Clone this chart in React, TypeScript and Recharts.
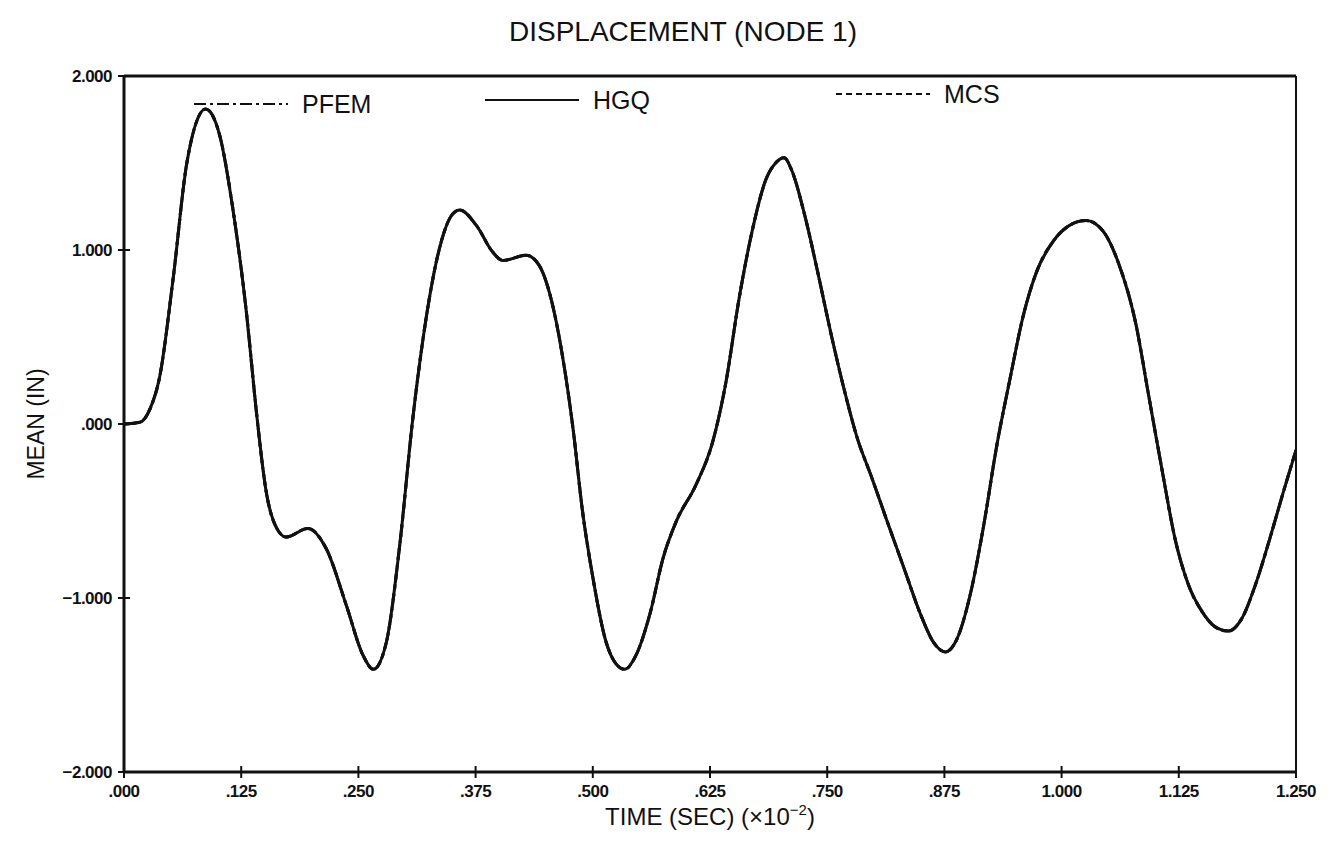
import { Legend, Line, LineChart, ReferenceLine, XAxis, YAxis } from 'recharts'

// time in units of 1e-2 sec
const timeSec = [
  0, 0.017, 0.028, 0.038, 0.0525, 0.067, 0.087, 0.102, 0.116, 0.131, 0.141, 0.152,
  0.163, 0.173, 0.196, 0.216, 0.237, 0.255, 0.266, 0.28, 0.294, 0.308, 0.322, 0.333,
  0.351, 0.358, 0.376, 0.393, 0.404, 0.429, 0.443, 0.454, 0.468, 0.479, 0.489, 0.5,
  0.514, 0.525, 0.534, 0.546, 0.561, 0.575, 0.589, 0.61, 0.628, 0.642, 0.656, 0.67,
  0.685, 0.695, 0.704, 0.712, 0.726, 0.74, 0.754, 0.768, 0.782, 0.797, 0.814, 0.832,
  0.85, 0.864, 0.876, 0.888, 0.903, 0.917, 0.931, 0.945, 0.959, 0.973, 0.991, 1.008,
  1.026, 1.044, 1.061, 1.079, 1.093, 1.107, 1.121, 1.135, 1.15, 1.165, 1.178, 1.192,
  1.207, 1.222, 1.236, 1.25,
]

const hgqMean = [
  0, 0.01, 0.09, 0.27, 0.84, 1.5, 1.81, 1.66, 1.24, 0.62, 0.08, -0.4,
  -0.6, -0.65, -0.6, -0.72, -1.04, -1.33, -1.41, -1.25, -0.7, 0.03, 0.6, 0.93,
  1.21, 1.23, 1.14, 0.99, 0.94, 0.97, 0.91, 0.75, 0.38, -0.03, -0.5, -0.88,
  -1.25, -1.38, -1.41, -1.33, -1.09, -0.77, -0.56, -0.35, -0.1, 0.24, 0.72, 1.11,
  1.41, 1.5, 1.53, 1.46, 1.2, 0.87, 0.52, 0.2, -0.08, -0.3, -0.56, -0.83,
  -1.1, -1.26, -1.31, -1.24, -0.97, -0.58, -0.12, 0.26, 0.62, 0.87, 1.05, 1.14,
  1.17, 1.11, 0.92, 0.58, 0.16, -0.26, -0.66, -0.92, -1.08, -1.17, -1.19, -1.12,
  -0.92, -0.66, -0.4, -0.15,
]
// the three solutions coincide at this scale
const pfemMean = hgqMean
const mcsMean = hgqMean

const xTicks = [0, 0.125, 0.25, 0.375, 0.5, 0.625, 0.75, 0.875, 1, 1.125, 1.25]
const xTickLabels = ['.000', '.125', '.250', '.375', '.500', '.625', '.750', '.875', '1.000', '1.125', '1.250']
const yTicks = [-2, -1, 0, 1, 2]
const yTickLabels = ['\u22122.000', '\u22121.000', '.000', '1.000', '2.000']

const data = timeSec.map((t, i) => ({
  t,
  pfem: pfemMean[i],
  hgq: hgqMean[i],
  mcs: mcsMean[i],
}))

const seriesStyle: Record<string, { dash?: string; lx: number; ly: number }> = {
  pfem: { dash: '12 4 3 4', lx: 194, ly: 104 },
  hgq: { lx: 485, ly: 100 },
  mcs: { dash: '6 4', lx: 836, ly: 94 },
}
const legendOrder = ['pfem', 'hgq', 'mcs']

const tickFont = {
  fontFamily: '"Liberation Sans", Arial, sans-serif',
  fontWeight: 700,
  fontSize: 17,
  fill: '#111',
}

function XTick({ x, y, payload }: any) {
  const i = xTicks.indexOf(payload.value)
  return (
    <g>
      <line x1={x} x2={x} y1={y - 6} y2={y + 6} stroke="#111" strokeWidth={2} />
      <text x={x} y={y + 25} textAnchor="middle" style={tickFont} letterSpacing={-0.5}>
        {xTickLabels[i]}
      </text>
    </g>
  )
}

function YTick({ x, y, payload }: any) {
  const i = yTicks.indexOf(payload.value)
  return (
    <g>
      <line x1={x - 6} x2={x + 6} y1={y} y2={y} stroke="#111" strokeWidth={2} />
      <text x={x - 12} y={y + 6} textAnchor="end" style={tickFont} letterSpacing={-0.5}>
        {yTickLabels[i]}
      </text>
    </g>
  )
}

function XLabel({ viewBox }: any) {
  const cx = viewBox.x + viewBox.width / 2
  return (
    <text
      x={cx}
      y={viewBox.y + 53}
      textAnchor="middle"
      fontFamily='"Liberation Sans", Arial, sans-serif'
      fontSize={24}
      fill="#111"
    >
      TIME (SEC) (×10
      <tspan dy={-10} fontSize={15}>
        −2
      </tspan>
      <tspan dy={10}>)</tspan>
    </text>
  )
}

function YLabel({ viewBox }: any) {
  const cy = viewBox.y + viewBox.height / 2
  return (
    <text
      x={36}
      y={cy}
      transform={`rotate(-90 36 ${cy})`}
      textAnchor="middle"
      dominantBaseline="central"
      fontFamily='"Liberation Sans", Arial, sans-serif'
      fontSize={23}
      fill="#111"
    >
      MEAN (IN)
    </text>
  )
}

function renderLegend(props: any) {
  const items = [...(props.payload || [])].sort(
    (a: any, b: any) => legendOrder.indexOf(a.dataKey) - legendOrder.indexOf(b.dataKey),
  )
  return (
    <svg width={1343} height={130}>
      {items.map((entry: any) => {
        const s = seriesStyle[entry.dataKey]
        return (
          <g key={entry.dataKey}>
            <line
              x1={s.lx}
              x2={s.lx + 94}
              y1={s.ly}
              y2={s.ly}
              stroke="#111"
              strokeWidth={2}
              strokeDasharray={s.dash}
            />
            <text
              x={s.lx + 108}
              y={s.ly + 9}
              fontFamily='"Liberation Sans", Arial, sans-serif'
              fontSize={25}
              fill="#111"
            >
              {entry.value}
            </text>
          </g>
        )
      })}
    </svg>
  )
}

export default function App() {
  return (
    <div
      style={{
        position: 'absolute',
        left: 0,
        top: 0,
        width: 1343,
        height: 842,
        background: '#fff',
      }}
    >
      <div
        style={{
          position: 'absolute',
          left: 0,
          width: 1366,
          top: 16,
          textAlign: 'center',
          fontFamily: '"Liberation Sans", Arial, sans-serif',
          fontSize: 28,
          color: '#111',
        }}
      >
        DISPLACEMENT (NODE 1)
      </div>
      <LineChart
        width={1343}
        height={842}
        data={data}
        margin={{ top: 76, right: 47, bottom: 10, left: 64 }}
      >
        <XAxis
          dataKey="t"
          type="number"
          domain={[0, 1.25]}
          ticks={xTicks}
          interval={0}
          height={60}
          tickSize={0}
          tickMargin={0}
          tick={<XTick />}
          axisLine={{ stroke: '#111', strokeWidth: 3 }}
          tickLine={false}
          label={<XLabel />}
          allowDataOverflow
        />
        <YAxis
          type="number"
          domain={[-2, 2]}
          ticks={yTicks}
          interval={0}
          width={60}
          tickSize={0}
          tickMargin={0}
          tick={<YTick />}
          axisLine={{ stroke: '#111', strokeWidth: 3 }}
          tickLine={false}
          label={<YLabel />}
          allowDataOverflow
        />
        <ReferenceLine y={2} stroke="#111" strokeWidth={3} />
        <ReferenceLine x={1.25} stroke="#111" strokeWidth={2} />
        <Legend
          layout="horizontal"
          verticalAlign="middle"
          align="center"
          content={renderLegend}
          wrapperStyle={{ position: 'absolute', left: 0, top: 0, width: 1343, height: 130 }}
        />
        <Line
          dataKey="pfem"
          name="PFEM"
          type="monotone"
          stroke="#111"
          strokeWidth={3}
          strokeDasharray="12 4 3 4"
          dot={false}
          isAnimationActive={false}
        />
        <Line
          dataKey="mcs"
          name="MCS"
          type="monotone"
          stroke="#111"
          strokeWidth={3}
          strokeDasharray="6 4"
          dot={false}
          isAnimationActive={false}
        />
        <Line
          dataKey="hgq"
          name="HGQ"
          type="monotone"
          stroke="#111"
          strokeWidth={3}
          dot={false}
          isAnimationActive={false}
        />
      </LineChart>
    </div>
  )
}
